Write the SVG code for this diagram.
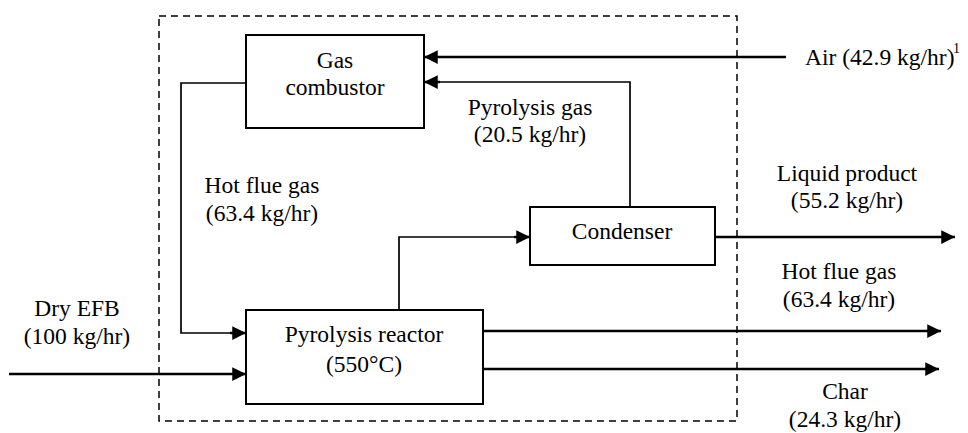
<svg xmlns="http://www.w3.org/2000/svg" width="968" height="433" viewBox="0 0 968 433">
<defs>
<marker id="ah" viewBox="0 0 10 10" refX="10" refY="5" markerWidth="5.5" markerHeight="5.5" orient="auto" markerUnits="strokeWidth">
<path d="M0,0 L10,5 L0,10 z" fill="#000"/>
</marker>
</defs>
<style>
text{font-size:23.5px;fill:#000;text-anchor:middle}
.box{fill:#fff;stroke:#000;stroke-width:2}
.c{fill:none;stroke:#000;stroke-width:2.5}
.t{fill:none;stroke:#000;stroke-width:1.7}
.dash{fill:none;stroke:#000;stroke-width:1.5;stroke-dasharray:7,5}
</style>
<rect width="968" height="433" fill="#fff"/>
<rect class="dash" x="159" y="16" width="578" height="405"/>
<g id="connectors">
<path class="c" d="M786,57 H424" marker-end="url(#ah)"/>
<path class="t" d="M630,207 V82 H426"/>
<path class="c" d="M440,82 H424" marker-end="url(#ah)"/>
<path class="t" d="M246,83 H181 V333 H232"/>
<path class="c" d="M230,333 H246" marker-end="url(#ah)"/>
<path class="c" d="M9,374 H246" marker-end="url(#ah)"/>
<path class="t" d="M399,310 V237 H516"/>
<path class="c" d="M514,237 H530" marker-end="url(#ah)"/>
<path class="c" d="M715,237 H955" marker-end="url(#ah)"/>
<path class="c" d="M483,331 H941" marker-end="url(#ah)"/>
<path class="c" d="M483,369 H939" marker-end="url(#ah)"/>
</g>
<g font-family="Liberation Serif, Times New Roman, Times, serif">
<g id="gas-combustor">
<rect class="box" x="246" y="35" width="178" height="93"/>
<text x="335" y="68">Gas</text>
<text x="335" y="95">combustor</text>
</g>
<g id="pyrolysis-reactor">
<rect class="box" x="246" y="310" width="237" height="94"/>
<text x="364" y="342">Pyrolysis reactor</text>
<text x="364" y="372">(550°C)</text>
</g>
<g id="condenser">
<rect class="box" x="530" y="207" width="185" height="58"/>
<text x="622" y="239">Condenser</text>
</g>
<g id="labels">
<text x="530" y="115">Pyrolysis gas</text>
<text x="530" y="142">(20.5 kg/hr)</text>
<text x="262" y="193">Hot flue gas</text>
<text x="262" y="221">(63.4 kg/hr)</text>
<text x="77" y="316">Dry EFB</text>
<text x="77" y="344">(100 kg/hr)</text>
<text x="847" y="181">Liquid product</text>
<text x="847" y="208">(55.2 kg/hr)</text>
<text x="839" y="279">Hot flue gas</text>
<text x="839" y="307">(63.4 kg/hr)</text>
<text x="845" y="399">Char</text>
<text x="845" y="427">(24.3 kg/hr)</text>
<text x="805" y="65" style="text-anchor:start">Air (42.9 kg/hr)</text>
<text x="953" y="53" style="text-anchor:start;font-size:14px">1</text>
</g>
</g>
</svg>
